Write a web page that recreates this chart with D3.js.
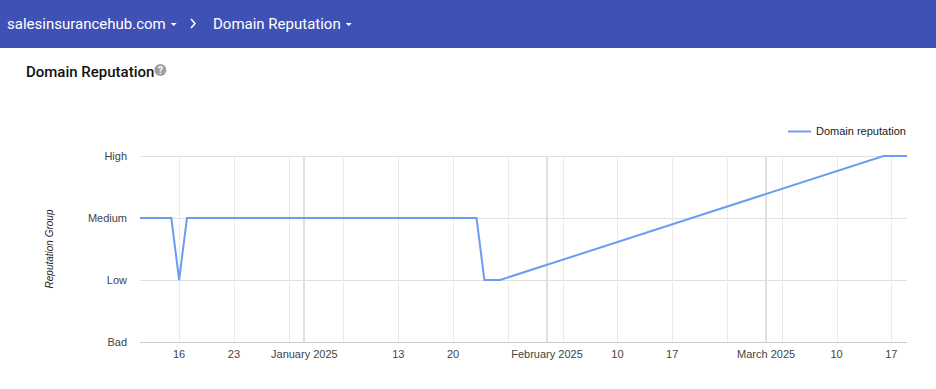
<!DOCTYPE html>
<html>
<head>
<meta charset="utf-8">
<script src="https://cdn.jsdelivr.net/npm/d3@7"></script>
<style>
    body { margin: 0; background: #fff; overflow: hidden; }
    svg { display: block; }
</style>
</head>
<body>
<div id="chart"></div>
<script>
    const domainName = "salesinsurancehub.com";
    const pageName = "Domain Reputation";
    const seriesName = "Domain reputation";
    const yTitle = "Reputation Group";

    const reputationGroups = ["Bad", "Low", "Medium", "High"];
    const dates = ["2024-12-11", "2024-12-15", "2024-12-16", "2024-12-17", "2025-01-23",
        "2025-01-24", "2025-01-26", "2025-03-16", "2025-03-19"];
    const reputation = ["Medium", "Medium", "Low", "Medium", "Medium",
        "Low", "Low", "High", "High"];
    const xStart = "2024-12-11", xEnd = "2025-03-19";
    const labelTicks = ["2024-12-16", "2024-12-23", "2025-01-01", "2025-01-13", "2025-01-20",
        "2025-02-01", "2025-02-10", "2025-02-17", "2025-03-01", "2025-03-10", "2025-03-17"];

    const width = 936, height = 389;
    const LineColor = "#6a9cf4";
    const parse = d3.timeParse("%Y-%m-%d");

    const svg = d3.select("#chart").append("svg")
        .attr("width", width)
        .attr("height", height);

    // header bar
    svg.append("rect").attr("width", width).attr("height", 48).attr("fill", "#3f51b5");
    const header = svg.append("g")
        .style("font-family", "Roboto, 'Open Sans', sans-serif")
        .style("font-size", "15px")
        .attr("fill", "#fff");
    const t1 = header.append("text").attr("x", 7).attr("y", 29).text(domainName);
    const w1 = t1.node().getComputedTextLength();
    header.append("path").attr("d", `M${7 + w1 + 5},23 l6,0 l-3,3 z`);
    header.append("path").attr("d", "M191,19 l4,4.5 l-4,4.5")
        .attr("fill", "none").attr("stroke", "#fff").attr("stroke-width", 1.5);
    const t2 = header.append("text").attr("x", 213).attr("y", 29).text(pageName);
    const w2 = t2.node().getComputedTextLength();
    header.append("path").attr("d", `M${213 + w2 + 5},23 l6,0 l-3,3 z`);

    // card title
    const title = svg.append("text")
        .attr("x", 26).attr("y", 77)
        .style("font-family", "Roboto, sans-serif")
        .style("font-size", "15px")
        .style("font-weight", 500)
        .attr("fill", "#111")
        .text(pageName);
    const tw = title.node().getComputedTextLength();
    svg.append("circle").attr("cx", 26 + tw + 6).attr("cy", 70).attr("r", 6).attr("fill", "#9e9e9e");
    svg.append("text").attr("x", 26 + tw + 6).attr("y", 74)
        .attr("text-anchor", "middle")
        .style("font-family", "Roboto, sans-serif")
        .style("font-size", "10px").style("font-weight", 700)
        .attr("fill", "#fff").text("?");

    // scales
    const x = d3.scaleTime()
        .domain([parse(xStart), parse(xEnd)])
        .range([140, 907]);
    const y = d3.scalePoint()
        .domain(reputationGroups)
        .range([342, 156]);

    const chart = svg.append("g")
        .style("font-family", "Arial, 'Liberation Sans', sans-serif")
        .style("font-size", "11px");

    // horizontal grid
    chart.append("g").selectAll("line")
        .data(reputationGroups)
        .join("line")
        .attr("x1", x.range()[0]).attr("x2", x.range()[1])
        .attr("y1", d => y(d) + 0.5).attr("y2", d => y(d) + 0.5)
        .attr("stroke", d => d === "Bad" ? "#cccccc" : "#e0e0e0");

    // weekly grid
    chart.append("g").selectAll("line")
        .data(d3.timeMonday.range(x.domain()[0], x.domain()[1]))
        .join("line")
        .attr("x1", d => Math.round(x(d)) + 0.5).attr("x2", d => Math.round(x(d)) + 0.5)
        .attr("y1", 156).attr("y2", 342)
        .attr("stroke", "#ebebeb");

    // month grid
    chart.append("g").selectAll("line")
        .data(d3.timeMonth.range(x.domain()[0], x.domain()[1]))
        .join("line")
        .attr("x1", d => Math.round(x(d))).attr("x2", d => Math.round(x(d)))
        .attr("y1", 156).attr("y2", 342)
        .attr("stroke", "#e0e0e0")
        .attr("stroke-width", 2);

    // x labels
    const fmt = d => d.getDate() === 1 ? d3.timeFormat("%B %Y")(d) : d3.timeFormat("%-d")(d);
    chart.append("g").selectAll("text")
        .data(labelTicks.map(parse))
        .join("text")
        .attr("x", d => x(d))
        .attr("y", 358)
        .attr("text-anchor", "middle")
        .attr("fill", "#444")
        .text(fmt);

    // y labels
    chart.append("g").selectAll("text")
        .data(reputationGroups)
        .join("text")
        .attr("x", 127)
        .attr("y", d => y(d) + 4)
        .attr("text-anchor", "end")
        .attr("fill", "#444")
        .text(d => d);

    chart.append("text")
        .attr("transform", "translate(53,249) rotate(-90)")
        .attr("text-anchor", "middle")
        .style("font-style", "italic")
        .style("font-size", "10px")
        .attr("fill", "#222")
        .text(yTitle);

    // series
    const points = dates.map((d, i) => ({date: parse(d), value: reputation[i]}));
    const line = d3.line()
        .x(d => x(d.date))
        .y(d => y(d.value));
    chart.append("path")
        .datum(points)
        .attr("d", line)
        .attr("fill", "none")
        .attr("stroke", LineColor)
        .attr("stroke-width", 2);

    // legend
    chart.append("line")
        .attr("x1", 788).attr("x2", 811)
        .attr("y1", 131.5).attr("y2", 131.5)
        .attr("stroke", LineColor).attr("stroke-width", 2);
    chart.append("text")
        .attr("x", 816).attr("y", 135)
        .attr("fill", "#222")
        .text(seriesName);
</script>
</body>
</html>
